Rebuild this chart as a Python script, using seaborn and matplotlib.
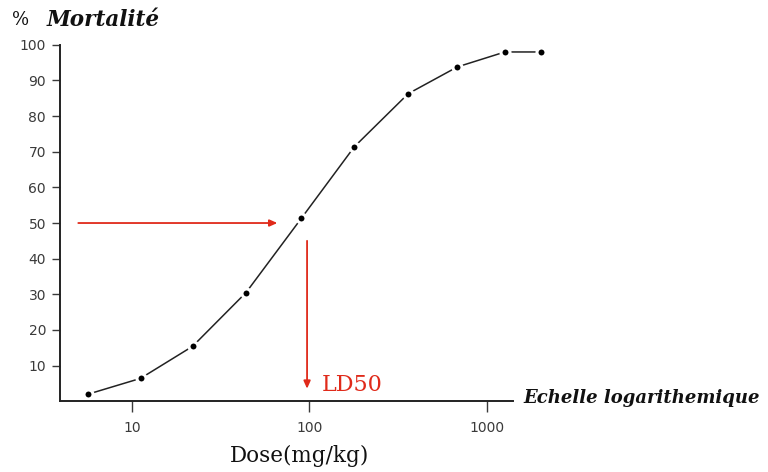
import matplotlib
matplotlib.use("Agg")
import matplotlib.pyplot as plt
import seaborn as sns
import pandas as pd

# data
dose = [5.7, 11.2, 22, 44, 90, 179, 360, 680, 1260, 2000]
mortality = [2, 6.4, 15.4, 30.5, 51.3, 71.4, 86.3, 93.8, 98, 98]
y_ticks = [10, 20, 30, 40, 50, 60, 70, 80, 90, 100]
x_ticks = [10, 100, 1000]
x_tick_labels = ["10", "100", "1000"]

df = pd.DataFrame({"dose": dose, "mortality": mortality})

sns.set_style("ticks")
plt.rcParams["font.family"] = ["DejaVu Sans"]

fig = plt.figure(figsize=(7.68, 4.72), dpi=100)
ax = fig.add_axes([0.078, 0.150, 0.590, 0.755])

sns.lineplot(data=df, x="dose", y="mortality", ax=ax, color="#222222",
             linewidth=1.1, marker="o", markersize=6.5,
             markerfacecolor="black", markeredgecolor="white",
             markeredgewidth=2.2, clip_on=False)

ax.set_xscale("log")
ax.set_xlim(3.94, 1400)
ax.set_ylim(0, 100)
ax.set_xticks(x_ticks)
ax.set_xticklabels(x_tick_labels)
ax.xaxis.set_minor_locator(matplotlib.ticker.NullLocator())
ax.set_yticks(y_ticks)
ax.tick_params(axis="both", labelsize=10, colors="#3a3a3a", width=1.0)
ax.tick_params(axis="x", length=8, pad=6)
ax.tick_params(axis="y", length=6, pad=4)
for lab in ax.get_xticklabels() + ax.get_yticklabels():
    lab.set_color("#3a3a3a")
for s in ["top", "right"]:
    ax.spines[s].set_visible(False)
for s in ["left", "bottom"]:
    ax.spines[s].set_linewidth(1.4)
    ax.spines[s].set_color("#222222")
ax.set_xlabel("")
ax.set_ylabel("")

red = "#e02a1a"
# horizontal arrow to the LD50 point
ax.annotate("", xy=(66, 50), xytext=(5.0, 50),
            arrowprops=dict(arrowstyle="-|>,head_length=0.45,head_width=0.2",
                            color=red, lw=1.3, shrinkA=0, shrinkB=0),
            annotation_clip=False)
# vertical arrow down to LD50
ax.annotate("", xy=(97, 3.5), xytext=(97, 45),
            arrowprops=dict(arrowstyle="-|>,head_length=0.45,head_width=0.2",
                            color=red, lw=1.3, shrinkA=0, shrinkB=0),
            annotation_clip=False)
ax.text(118, 4.5, "LD50", color=red, fontsize=16,
        family="DejaVu Serif", va="center", ha="left")

# titles / labels
fig.text(12 / 768, 1 - 20 / 472, "%", fontsize=13, family="DejaVu Serif",
         va="center", ha="left", color="#111111")
fig.text(47 / 768, 1 - 20 / 472, "Mortalité", fontsize=15.5,
         family="DejaVu Serif", style="italic", weight="bold",
         va="center", ha="left", color="#111111")
fig.text(523 / 768, 1 - 398 / 472, "Echelle logarithemique", fontsize=13,
         family="DejaVu Serif", style="italic", weight="bold",
         va="center", ha="left", color="#111111")
fig.text(300 / 768, 1 - 456 / 472, "Dose(mg/kg)", fontsize=15.5,
         family="DejaVu Serif", va="center", ha="center", color="#111111")

fig.savefig("out.png", dpi=100)
